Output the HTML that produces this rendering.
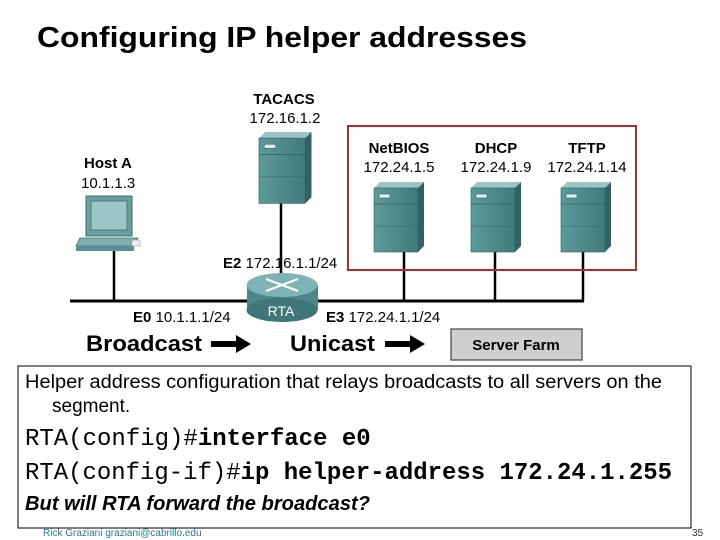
<!DOCTYPE html>
<html><head><style>
body{margin:0;background:#fff;}
svg{display:block;}
</style></head><body>
<svg width="720" height="540" xmlns="http://www.w3.org/2000/svg" font-family="Liberation Sans, Arial, sans-serif">
<defs>
<linearGradient id="srv" x1="0" x2="1"><stop offset="0" stop-color="#5f9a9a"/><stop offset="1" stop-color="#3f7a7c"/></linearGradient>
<g id="server">
  <polygon points="0,6 6,0 50,0 44,6" fill="#9cc4c4"/>
  <polygon points="44,6 50,0 50,64 44,70" fill="#2f6466"/>
  <rect x="0" y="6" width="44" height="64" fill="url(#srv)" stroke="#2f5c5e" stroke-width="0.6"/>
  <line x1="0" y1="22" x2="44" y2="22" stroke="#2f6466" stroke-width="0.8"/>
  <line x1="0" y1="44" x2="44" y2="44" stroke="#2f6466" stroke-width="0.6"/>
  <rect x="5" y="12" width="11" height="4" fill="#d9eeee" stroke="#2f6466" stroke-width="0.6"/>
</g>
</defs>
<text x="37" y="47" font-size="29" font-weight="bold" textLength="490" lengthAdjust="spacingAndGlyphs" fill="#000">Configuring IP helper addresses</text>

<line x1="70" y1="301" x2="584" y2="301" stroke="#000" stroke-width="3"/>
<line x1="114" y1="250" x2="114" y2="301" stroke="#000" stroke-width="2.5"/>
<line x1="281" y1="203" x2="281" y2="276" stroke="#000" stroke-width="2.5"/>
<line x1="404" y1="252" x2="404" y2="301" stroke="#000" stroke-width="2.5"/>
<line x1="495" y1="252" x2="495" y2="301" stroke="#000" stroke-width="2.5"/>
<line x1="583" y1="252" x2="583" y2="301" stroke="#000" stroke-width="2.5"/>

<rect x="348" y="126" width="288" height="144" fill="none" stroke="#b22a2a" stroke-width="2"/>

<text x="284" y="104" font-size="15" font-weight="bold" text-anchor="middle">TACACS</text>
<text x="285" y="123" font-size="15" text-anchor="middle">172.16.1.2</text>
<g transform="translate(259,132) scale(1.05,1.02)"><use href="#server"/></g>

<text x="399" y="153" font-size="15" font-weight="bold" text-anchor="middle">NetBIOS</text>
<text x="399" y="172" font-size="15" text-anchor="middle">172.24.1.5</text>
<text x="496" y="153" font-size="15" font-weight="bold" text-anchor="middle">DHCP</text>
<text x="496" y="172" font-size="15" text-anchor="middle">172.24.1.9</text>
<text x="587" y="153" font-size="15" font-weight="bold" text-anchor="middle">TFTP</text>
<text x="587" y="172" font-size="15" text-anchor="middle">172.24.1.14</text>
<g transform="translate(374,182)"><use href="#server"/></g>
<g transform="translate(471,182)"><use href="#server"/></g>
<g transform="translate(561,182)"><use href="#server"/></g>

<text x="84" y="168" font-size="15" font-weight="bold">Host A</text>
<text x="81" y="188" font-size="15">10.1.1.3</text>
<rect x="86" y="196" width="46" height="40" fill="#6aa0a2" stroke="#3c6c6e"/>
<rect x="91" y="201" width="36" height="29" fill="#9cc6c6" stroke="#3c6c6e" stroke-width="0.8"/>
<polygon points="80,238 138,238 134,246 76,246" fill="#7fb0b0" stroke="#3c6c6e" stroke-width="0.8"/>
<rect x="76" y="246" width="58" height="5" fill="#5b8e90"/>
<rect x="132" y="240" width="8" height="6" fill="#eee" stroke="#999" stroke-width="0.6"/>

<rect x="247" y="285" width="71" height="25" fill="#4d8688"/>
<ellipse cx="282" cy="310" rx="35.5" ry="12" fill="#3f7678"/>
<ellipse cx="282" cy="285" rx="35.5" ry="12" fill="#7fb3b5"/>
<g stroke="#fff" stroke-width="2.2">
<line x1="266" y1="279" x2="298" y2="291"/><line x1="266" y1="291" x2="298" y2="279"/>
</g>
<text x="281" y="316" font-size="14" fill="#fff" text-anchor="middle">RTA</text>

<text x="223" y="268" font-size="15"><tspan font-weight="bold">E2</tspan> 172.16.1.1/24</text>
<text x="133" y="322" font-size="15"><tspan font-weight="bold">E0</tspan> 10.1.1.1/24</text>
<text x="326" y="322" font-size="15"><tspan font-weight="bold">E3</tspan> 172.24.1.1/24</text>

<text x="86" y="351" font-size="22" font-weight="bold" textLength="116" lengthAdjust="spacingAndGlyphs">Broadcast</text>
<polygon points="211,341 236,341 236,335 251,344 236,353 236,347 211,347" fill="#000"/>
<text x="290" y="351" font-size="22" font-weight="bold" textLength="85" lengthAdjust="spacingAndGlyphs">Unicast</text>
<polygon points="385,341 410,341 410,335 425,344 410,353 410,347 385,347" fill="#000"/>
<rect x="451" y="329" width="131" height="31" fill="#cfcfcf" stroke="#444" stroke-width="1.2"/>
<text x="516" y="350" font-size="15" font-weight="bold" text-anchor="middle">Server Farm</text>

<rect x="18" y="366" width="673" height="162" fill="none" stroke="#000" stroke-width="1"/>
<text x="25" y="388" font-size="19" textLength="637" lengthAdjust="spacingAndGlyphs">Helper address configuration that relays broadcasts to all servers on the</text>
<text x="52" y="412" font-size="19">segment.</text>
<text x="25" y="445" font-size="24" font-family="Liberation Mono, monospace">RTA(config)#<tspan font-weight="bold">interface e0</tspan></text>
<text x="25" y="479" font-size="24" font-family="Liberation Mono, monospace" textLength="647" lengthAdjust="spacingAndGlyphs">RTA(config-if)#<tspan font-weight="bold">ip helper-address 172.24.1.255</tspan></text>
<text x="25" y="510" font-size="20" font-weight="bold" font-style="italic" textLength="345" lengthAdjust="spacingAndGlyphs">But will RTA forward the broadcast?</text>
<text x="43" y="536" font-size="10" fill="#2b7a8a">Rick Graziani  graziani@cabrillo.edu</text>
<text x="692" y="536" font-size="10" fill="#333">35</text>
</svg>
</body></html>
